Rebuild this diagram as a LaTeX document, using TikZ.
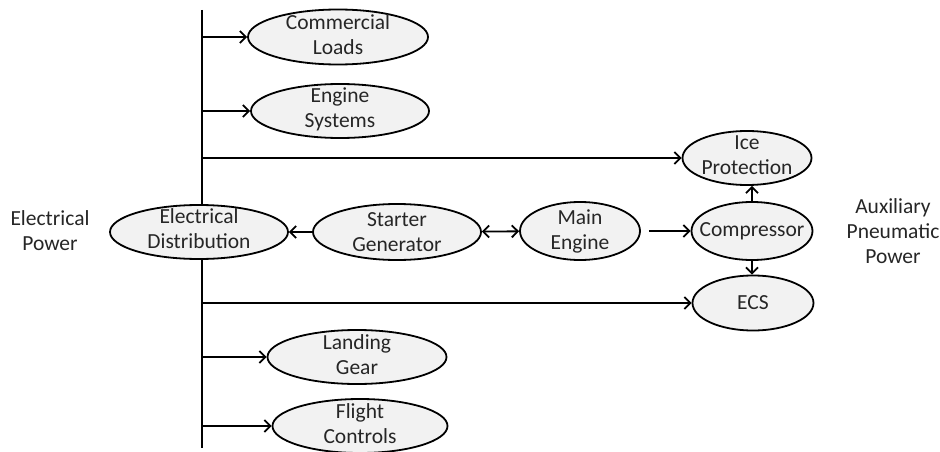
\documentclass[tikz,border=0pt]{standalone}
\usepackage{fontspec}
\setmainfont{Carlito}
\usetikzlibrary{shapes.geometric,arrows.meta}
\definecolor{ellfill}{HTML}{F2F2F2}
\definecolor{txtc}{HTML}{262626}
\tikzset{
  x=1pt,y=-1pt,
  ell/.style 2 args={ellipse,draw=black,line width=1.8pt,fill=ellfill,inner sep=0pt,minimum width=#1pt,minimum height=#2pt},
  lbl/.style={align=center,text=txtc,font=\fontsize{21.5}{25}\selectfont,inner sep=0pt},
  tip/.style={Straight Barb[length=6pt,width=12pt,line width=1.8pt]},
  arr/.style={line width=1.8pt,-{Straight Barb[length=6pt,width=12pt,line width=1.8pt]}},
  darr/.style={line width=1.8pt,{Straight Barb[length=6pt,width=12pt,line width=1.8pt]}-{Straight Barb[length=6pt,width=12pt,line width=1.8pt]}},
  bus/.style={line width=1.8pt}
}
\begin{document}
\begin{tikzpicture}
\useasboundingbox (0,0) rectangle (940,452);
\coordinate (bustop) at (202,10);
\coordinate (busbot) at (202,448);
\draw[bus] (bustop) -- (busbot);

\node[ell={180}{55}] (cl) at (338,37) {};
\node[lbl] (clt) at (338,35) {Commercial\\Loads};
\node[ell={178}{54}] (es) at (340,111) {};
\node[lbl] (est) at (340,109) {Engine\\Systems};
\node[ell={129}{54}] (ice) at (747,158) {};
\node[lbl] (icet) at (747,155) {Ice\\Protection};
\node[ell={121}{58}] (comp) at (752,231) {};
\node[lbl] (compt) at (comp) {Compressor};
\node[ell={121}{55}] (ecs) at (753,303) {};
\node[lbl] (ecst) at (ecs) {ECS};
\node[ell={178}{54}] (ed) at (199,232) {};
\node[lbl] (edt) at (199,229) {Electrical\\Distribution};
\node[ell={168}{56}] (sg) at (397,232) {};
\node[lbl] (sgt) at (sg) {Starter\\Generator};
\node[ell={120}{58}] (me) at (580,231) {};
\node[lbl] (met) at (me) {Main\\Engine};
\node[ell={179}{54}] (lg) at (357,357) {};
\node[lbl] (lgt) at (357,355) {Landing\\Gear};
\node[ell={175}{54}] (fc) at (360,426) {};
\node[lbl] (fct) at (360,424) {Flight\\Controls};

\node[lbl] (ep) at (50,231) {Electrical\\Power};
\node[lbl] (app) at (893,231) {Auxiliary\\Pneumatic\\Power};

\draw[arr] (bustop |- cl) -- (cl);
\draw[arr] (bustop |- es) -- (es);
\draw[arr] (bustop |- ice) -- (ice);
\draw[arr] (bustop |- ecs) -- (ecs);
\draw[arr] (bustop |- lg) -- (lg);
\draw[arr] (bustop |- fc) -- (fc);
\draw[arr] (sg) -- (ed);
\draw[darr] (sg) -- (me);
\draw[arr,shorten <=8pt] (me) -- (comp);
\draw[arr] (comp.north) -- (comp.north |- ice.south);
\draw[arr] (comp.south) -- (comp.south |- ecs.north);
\end{tikzpicture}
\end{document}
